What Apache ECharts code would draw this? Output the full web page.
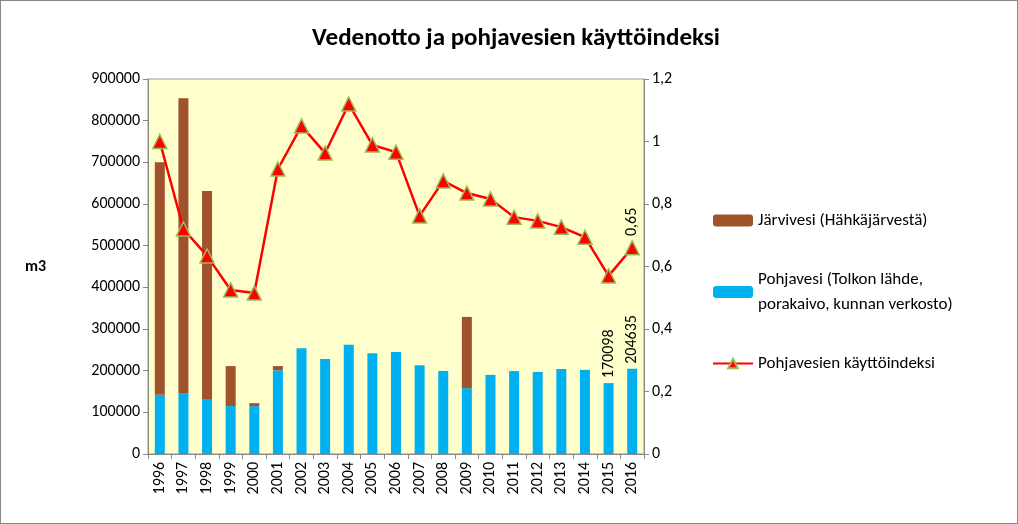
<!DOCTYPE html>
<html><head><meta charset="utf-8">
<script src="https://cdn.jsdelivr.net/npm/echarts@6/dist/echarts.min.js"></script>
<style>html,body{margin:0;padding:0;background:#fff}#c{width:1018px;height:524px;box-sizing:border-box;border:1px solid #888}</style>
</head><body><div id="c"></div>
<script>
const years=['1996','1997','1998','1999','2000','2001','2002','2003','2004','2005','2006','2007','2008','2009','2010','2011','2012','2013','2014','2015','2016'];
const pohjavesi=[142000,146000,132000,115000,115000,201000,254000,228000,262000,242000,245000,213000,197000,158000,190000,199000,197000,204000,202000,170098,204635];
const jarvivesi=[558000,708000,499000,96000,7000,10000,0,0,0,0,0,0,2000,171000,0,0,0,0,0,0,0];
const indeksi=[1.0,0.72,0.634,0.525,0.515,0.912,1.05,0.963,1.12,0.989,0.966,0.762,0.874,0.835,0.816,0.758,0.746,0.726,0.694,0.57,0.66];
const leftTicks=[0,100000,200000,300000,400000,500000,600000,700000,800000,900000];
const rightTicks=[0,0.2,0.4,0.6,0.8,1,1.2];
const font='Calibri, Carlito, "Liberation Sans", sans-serif';
const ch=echarts.init(document.getElementById('c'));
const lastIdx=years.length-1;
ch.setOption({
 animation:false,
 textStyle:{fontFamily:font},
 title:{text:'Vedenotto ja pohjavesien käyttöindeksi',left:510,top:20,textAlign:'center',textStyle:{fontSize:25,fontWeight:'bold',color:'#000',fontFamily:font}},
 grid:{left:147,top:78,width:496,height:375,backgroundColor:'#FFFFCC',show:true,borderColor:'#999',borderWidth:1},
 legend:{orient:'vertical',left:706,top:202,itemGap:34,itemWidth:40,itemHeight:12,
  textStyle:{fontSize:17,color:'#000',fontFamily:font,lineHeight:25},
  data:[{name:'Järvivesi (Hähkäjärvestä)'},{name:'Pohjavesi (Tolkon lähde,\nporakaivo, kunnan verkosto)'},{name:'Pohjavesien käyttöindeksi'}]},
 xAxis:{type:'category',data:years,axisTick:{show:true,lineStyle:{color:'#888'}},axisLine:{lineStyle:{color:'#888'}},
  axisLabel:{rotate:90,fontSize:16,color:'#000',fontWeight:'normal'}},
 yAxis:[{type:'value',min:0,max:900000,interval:100000,name:'m3',nameLocation:'middle',nameRotate:0,nameGap:102,
   nameTextStyle:{fontSize:16,fontWeight:'bold',color:'#000'},
   axisLabel:{fontSize:16,color:'#000',formatter:v=>String(v)},axisLine:{show:true,lineStyle:{color:'#888'}},axisTick:{show:true,lineStyle:{color:'#888'}},splitLine:{show:false}},
  {type:'value',min:0,max:1.2,interval:0.2,position:'right',
   axisLabel:{fontSize:16,color:'#000',formatter:v=>String(Math.round(v*10)/10).replace('.',',')},
   axisLine:{show:true,lineStyle:{color:'#888'}},axisTick:{show:true,lineStyle:{color:'#888'}},splitLine:{show:false}}],
 series:[
  {name:'Pohjavesi (Tolkon lähde,\nporakaivo, kunnan verkosto)',type:'bar',stack:'a',barWidth:10,itemStyle:{color:'#00B0F0'},
   data:pohjavesi.map((v,i)=>i>=19?{value:v,label:{show:true,position:'top',rotate:90,align:'left',verticalAlign:'middle',fontSize:16,color:'#000',formatter:String(v)}}:v)},
  {name:'Järvivesi (Hähkäjärvestä)',type:'bar',stack:'a',barWidth:10,itemStyle:{color:'#A0522D'},data:jarvivesi},
  {name:'Pohjavesien käyttöindeksi',type:'line',yAxisIndex:1,symbol:'triangle',symbolSize:14,
   lineStyle:{color:'#FF0000',width:2.5},itemStyle:{color:'#FF0000',borderColor:'#9BBB59',borderWidth:1.5},
   data:indeksi.map((v,i)=>i===lastIdx?{value:v,label:{show:true,position:'top',rotate:90,align:'left',verticalAlign:'middle',distance:4,fontSize:16,color:'#000',formatter:'0,65'}}:v)}
 ]
});
</script></body></html>
